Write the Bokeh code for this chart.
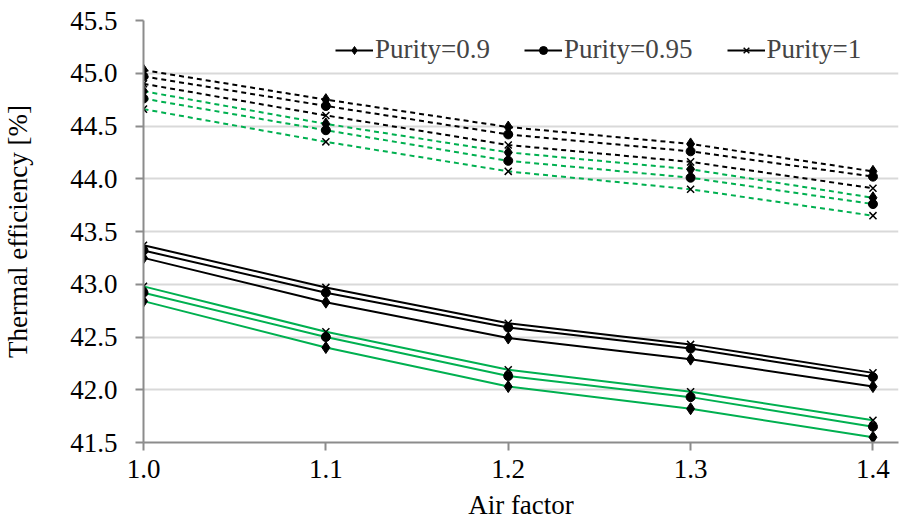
from bokeh.plotting import figure
from bokeh.models import Legend, LegendItem, Range1d, FixedTicker, NumeralTickFormatter
from bokeh.embed import file_html
from bokeh.resources import INLINE

air_factor = [1.0, 1.1, 1.2, 1.3, 1.4]
x_ticks = [1.0, 1.1, 1.2, 1.3, 1.4]
y_ticks = [41.5, 42.0, 42.5, 43.0, 43.5, 44.0, 44.5, 45.0, 45.5]

# solid black group
solid_black_p090 = [43.25, 42.83, 42.49, 42.29, 42.03]
solid_black_p095 = [43.32, 42.92, 42.59, 42.39, 42.12]
solid_black_p100 = [43.37, 42.97, 42.63, 42.43, 42.16]
# solid green group
solid_green_p090 = [42.84, 42.40, 42.03, 41.82, 41.55]
solid_green_p095 = [42.92, 42.50, 42.13, 41.93, 41.65]
solid_green_p100 = [42.98, 42.55, 42.19, 41.98, 41.71]
# dashed black group
dash_black_p090 = [45.03, 44.75, 44.49, 44.33, 44.07]
dash_black_p095 = [44.97, 44.69, 44.42, 44.26, 44.02]
dash_black_p100 = [44.90, 44.60, 44.32, 44.16, 43.91]
# dashed green group
dash_green_p090 = [44.83, 44.52, 44.25, 44.09, 43.82]
dash_green_p095 = [44.76, 44.46, 44.17, 44.01, 43.76]
dash_green_p100 = [44.66, 44.35, 44.07, 43.90, 43.65]

legend_labels = ["Purity=0.9", "Purity=0.95", "Purity=1"]

FONT = "Liberation Serif"
BLACK = "#000000"
GREEN = "#00B050"
GRID = "#D9D9D9"
AXIS = "#8C8C8C"

p = figure(width=900, height=522, output_backend="svg", toolbar_location=None,
           x_range=Range1d(1.0, 1.414), y_range=Range1d(41.5, 45.5),
           min_border_left=143, min_border_right=2, min_border_top=20,
           min_border_bottom=80)
p.outline_line_color = None
p.background_fill_color = "white"
p.border_fill_color = "white"

groups = [
    (solid_black_p090, solid_black_p095, solid_black_p100, BLACK, "solid"),
    (solid_green_p090, solid_green_p095, solid_green_p100, GREEN, "solid"),
    (dash_black_p090, dash_black_p095, dash_black_p100, BLACK, "dashed"),
    (dash_green_p090, dash_green_p095, dash_green_p100, GREEN, "dashed"),
]

line_renderers = []
for g in groups:
    for ys in g[:3]:
        if g[4] == "solid":
            r = p.line(air_factor, ys, line_color=g[3], line_width=2)
        else:
            r = p.line(air_factor, ys, line_color=g[3], line_width=2, line_dash="5 4")
        line_renderers.append(r)

marker_renderers = []
for g in groups:
    r1 = p.scatter(air_factor, g[0], marker="diamond", size=12, fill_color=BLACK, line_color=BLACK)
    r2 = p.scatter(air_factor, g[1], marker="circle", size=9, fill_color=BLACK, line_color=BLACK)
    r3 = p.scatter(air_factor, g[2], marker="x", size=10, line_color=BLACK, line_width=1.5)
    marker_renderers.append((r1, r2, r3))

leg_items = []
for i in range(3):
    leg_items.append(LegendItem(label=legend_labels[i],
                                renderers=[line_renderers[i], marker_renderers[0][i]]))
legend = Legend(items=leg_items, orientation="horizontal", location=(187, 372),
                label_text_font=FONT, label_text_font_size="27px",
                glyph_width=38, glyph_height=20, label_standoff=2, spacing=34,
                padding=5, border_line_alpha=0, background_fill_alpha=0,
                margin=0)
p.add_layout(legend, "center")

p.xgrid.visible = False
p.ygrid.grid_line_color = GRID
p.ygrid.grid_line_width = 2
p.ygrid.ticker = FixedTicker(ticks=y_ticks)

p.xaxis.ticker = FixedTicker(ticks=x_ticks)
p.yaxis.ticker = FixedTicker(ticks=y_ticks)
p.xaxis.formatter = NumeralTickFormatter(format="0.0")
p.yaxis.formatter = NumeralTickFormatter(format="0.0")

for ax in (p.xaxis, p.yaxis):
    ax.axis_line_color = AXIS
    ax.axis_line_width = 2
    ax.major_tick_line_color = AXIS
    ax.major_tick_line_width = 2
    ax.major_tick_in = 0
    ax.major_tick_out = 8
    ax.minor_tick_line_color = None
    ax.major_label_text_font_size = "27px"
    ax.major_label_text_color = "black"
    ax.axis_label_text_font = FONT
    ax.axis_label_text_font_size = "27px"
    ax.axis_label_text_font_style = "normal"
    ax.axis_label_text_color = "black"

p.xaxis.major_label_text_font = FONT
p.yaxis.major_label_text_font = FONT

p.xaxis.axis_label = "Air factor"
p.yaxis.axis_label = "Thermal efficiency [%]"
p.xaxis.major_label_standoff = 9
p.yaxis.major_label_standoff = 18
p.xaxis.axis_label_standoff = 9
p.yaxis.axis_label_standoff = 34

open("out.html", "w").write(file_html(p, INLINE))
